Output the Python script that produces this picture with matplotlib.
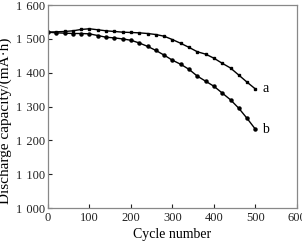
import matplotlib
matplotlib.use('Agg')
import matplotlib.pyplot as plt

# Cycle numbers (every 20 cycles)
cycles = list(range(0, 501, 20))

# Curve a (upper)
cap_a = [1520, 1521, 1522, 1524, 1528, 1530, 1527, 1524, 1522, 1520, 1519,
         1518, 1516, 1513, 1508, 1498, 1487, 1475, 1462, 1455, 1443, 1428,
         1414, 1393, 1372, 1352]

# Curve b (lower)
cap_b = [1520, 1518, 1517, 1516, 1516, 1515, 1510, 1505, 1503, 1500, 1496,
         1488, 1478, 1466, 1452, 1437, 1425, 1410, 1390, 1375, 1360, 1340,
         1320, 1295, 1265, 1233]

x_ticks = [0, 100, 200, 300, 400, 500, 600]
y_ticks = [1000, 1100, 1200, 1300, 1400, 1500, 1600]
y_tick_labels = ['1\u2004000', '1\u2004100', '1\u2004200', '1\u2004300',
                 '1\u2004400', '1\u2004500', '1\u2004600']

plt.rcParams['font.family'] = ['Liberation Serif', 'DejaVu Serif']

fig = plt.figure(figsize=(3.02, 2.43), dpi=100)
ax = fig.add_axes([0.159, 0.144, 0.824, 0.835])

ax.plot(cycles, cap_a, color='black', lw=1.0, marker='s', ms=2.0)
ax.plot(cycles, cap_b, color='black', lw=1.0, marker='o', ms=2.2)

ax.text(cycles[-1] + 17, cap_a[-1], 'a', fontsize=10, va='center')
ax.text(cycles[-1] + 17, cap_b[-1], 'b', fontsize=10, va='center')

ax.set_xlim(0, 600)
ax.set_ylim(1000, 1600)
ax.set_xticks(x_ticks)
ax.set_yticks(y_ticks)
ax.set_yticklabels(y_tick_labels)
ax.tick_params(direction='in', length=3, width=0.8, colors='#222222', pad=3)
ax.tick_params(axis='x', labelsize=9)
ax.tick_params(axis='y', labelsize=9, pad=2)

for s in ax.spines.values():
    s.set_color('#888888')
    s.set_linewidth(0.9)

ax.set_xlabel('Cycle number', fontsize=10, labelpad=3)
ax.set_ylabel('Discharge capacity/(mA\u00b7h)', fontsize=11)
ax.yaxis.set_label_coords(-0.145, 0.43)

fig.savefig('out.png', dpi=100)
